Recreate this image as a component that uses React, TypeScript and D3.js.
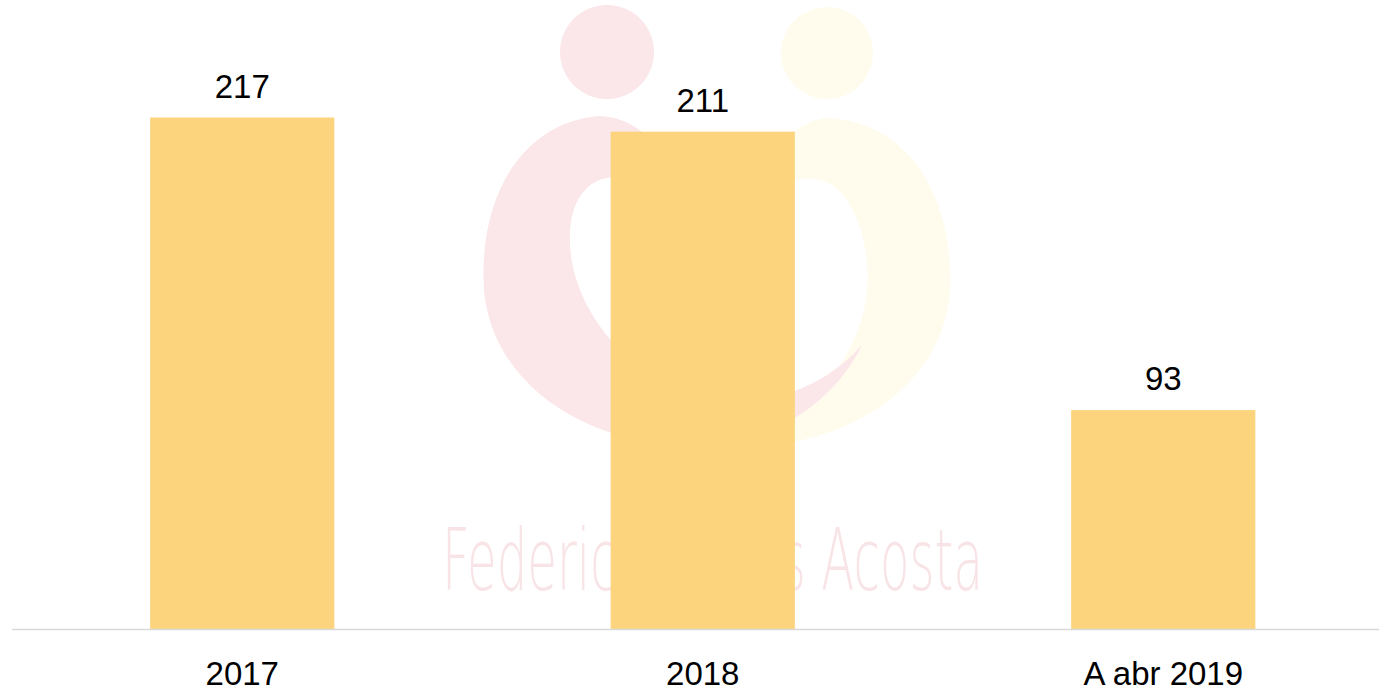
import React from "react";
import * as d3 from "d3";

const categories = ["2017", "2018", "A abr 2019"];
const values = [217, 211, 93];

const W = 1379;
const H = 693;

// faint logo behind the bars (decoration only)
function Watermark() {
  const pink =
    "M 600 116 C 520 122, 478 200, 484 290 C 492 382, 580 440, 680 446 C 760 450, 830 410, 862 345 C 820 392, 760 410, 700 395 C 622 376, 566 300, 570 232 C 572 196, 590 178, 614 177 C 640 176, 660 182, 672 192 C 668 150, 640 118, 600 116 Z";
  const yellow =
    "M 830 118 C 912 124, 954 200, 950 290 C 944 380, 860 440, 760 446 C 740 446, 725 444, 712 440 C 790 425, 852 380, 866 300 C 874 240, 850 186, 820 180 C 800 176, 780 182, 768 192 C 772 150, 796 118, 830 118 Z";
  return (
    <g>
      <path d={yellow} fill="#fffcee" />
      <path d={pink} fill="#fbe6e9" />
      <circle cx={607} cy={52} r={47} fill="#fbe7ea" />
      <circle cx={827} cy={53} r={46} fill="#fffcee" />
      <text
        x={442}
        y={590}
        textLength={541}
        lengthAdjust="spacingAndGlyphs"
        fontFamily="'DejaVu Sans'"
        fontWeight={200}
        fontSize={86}
        fill="#f8e3e6"
      >
        Federico Lleras Acosta
      </text>
    </g>
  );
}

export default function App() {
  const x = d3
    .scaleBand<string>()
    .domain(categories)
    .range([12, 1393.5])
    .paddingInner(0.6)
    .paddingOuter(0.3);

  const y = d3.scaleLinear().domain([0, 250]).range([629.5, 39.65]);
  const baseline = y(0);

  return (
    <svg
      width={W}
      height={H}
      style={{ position: "absolute", left: 0, top: 0, background: "#fff" }}
      fontFamily="'Liberation Sans', Arial, sans-serif"
    >
      <Watermark />
      {values.map((v, i) => {
        const c = categories[i];
        const cx = x(c)! + x.bandwidth() / 2;
        return (
          <g key={c}>
            <rect
              x={x(c)}
              y={y(v)}
              width={x.bandwidth()}
              height={baseline - y(v)}
              fill="#fdd47e"
            />
            <text x={cx} y={y(v) - 20} textAnchor="middle" fontSize={33} fill="#000">
              {v}
            </text>
            <text x={cx} y={baseline + 55} textAnchor="middle" fontSize={33} fill="#000">
              {c}
            </text>
          </g>
        );
      })}
      <line x1={12} x2={W} y1={baseline} y2={baseline} stroke="#d9d9d9" strokeWidth={1.5} />
    </svg>
  );
}
